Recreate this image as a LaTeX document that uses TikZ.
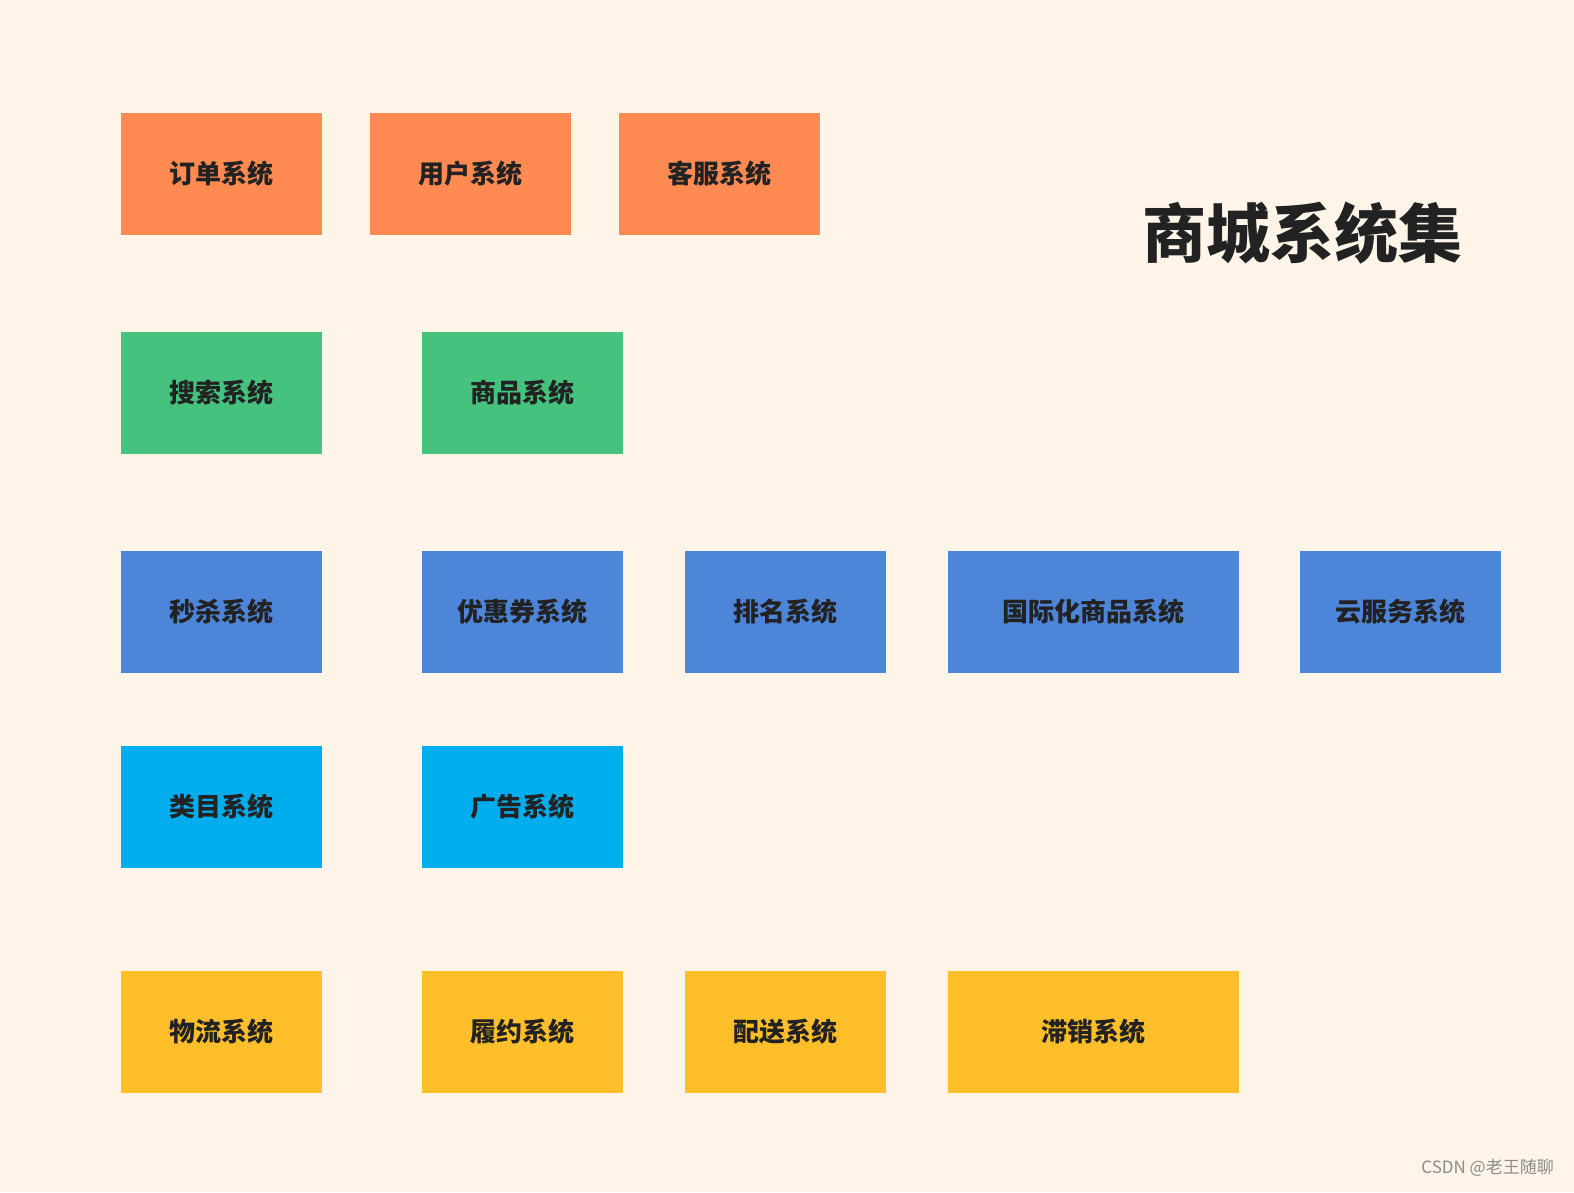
\documentclass[tikz,border=0pt]{standalone}
\usepackage{fontspec}
\newfontfamily\cjk{Noto Sans CJK SC}
\definecolor{bg}{HTML}{FEF4E8}
\definecolor{corange}{HTML}{FF8A52}
\definecolor{cgreen}{HTML}{44C27E}
\definecolor{cblue}{HTML}{4D86D9}
\definecolor{ccyan}{HTML}{00AEEE}
\definecolor{cyellow}{HTML}{FFBF2A}
\definecolor{txt}{HTML}{222222}
\begin{document}
\begin{tikzpicture}[x=1pt,y=-1pt,
  sysbox/.style={fill=#1,draw=none,text=txt,font=\cjk\bfseries\fontsize{26}{30}\selectfont,inner sep=0pt,minimum height=122pt,minimum width=201pt},
  widebox/.style={sysbox=#1,minimum width=291pt},
]
\fill[bg] (0,0) rectangle (1574,1192);
\useasboundingbox (0,0) rectangle (1574,1192);
\node[sysbox=corange] (a1) at (221.5,174) {订单系统};
\node[sysbox=corange] (a2) at (470.5,174) {用户系统};
\node[sysbox=corange] (a3) at (719.5,174) {客服系统};
\node[sysbox=cgreen] (b1) at (221.5,393) {搜索系统};
\node[sysbox=cgreen] (b2) at (522.5,393) {商品系统};
\node[sysbox=cblue] (c1) at (221.5,612) {秒杀系统};
\node[sysbox=cblue] (c2) at (522.5,612) {优惠券系统};
\node[sysbox=cblue] (c3) at (785.5,612) {排名系统};
\node[widebox=cblue] (c4) at (1093.5,612) {国际化商品系统};
\node[sysbox=cblue] (c5) at (1400.5,612) {云服务系统};
\node[sysbox=ccyan] (d1) at (221.5,807) {类目系统};
\node[sysbox=ccyan] (d2) at (522.5,807) {广告系统};
\node[sysbox=cyellow] (e1) at (221.5,1032) {物流系统};
\node[sysbox=cyellow] (e2) at (522.5,1032) {履约系统};
\node[sysbox=cyellow] (e3) at (785.5,1032) {配送系统};
\node[widebox=cyellow] (e4) at (1093.5,1032) {滞销系统};
\node[text=txt,font=\cjk\bfseries\fontsize{64}{72}\selectfont,inner sep=0pt] (title) at (1302,233) {商城系统集};
\node[text=black!45,font=\cjk\fontsize{17}{19}\selectfont,inner sep=0pt,anchor=east] (wm) at (1554,1168) {CSDN @老王随聊};
\end{tikzpicture}
\end{document}
